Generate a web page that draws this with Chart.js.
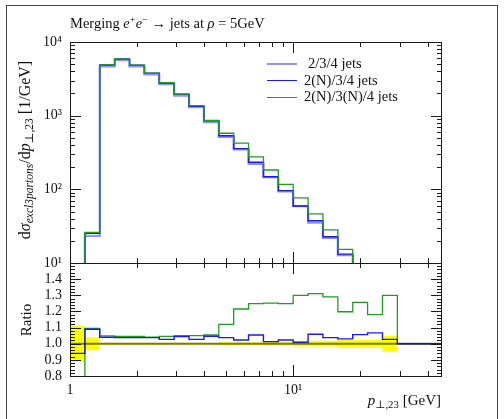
<!DOCTYPE html>
<html>
<head>
<meta charset="utf-8">
<title>Merging e+e- jets</title>
<script src="https://cdn.jsdelivr.net/npm/chart.js@4.4.1/dist/chart.umd.min.js"></script>
<style>
  html, body { margin: 0; padding: 0; background: #fff; }
  #wrap { position: relative; width: 504px; height: 419px; overflow: hidden;
          font-family: 'Liberation Serif', 'DejaVu Serif', serif; color: #111; }
  #frame { position: absolute; left: 6px; top: 5px; width: 490px; height: 430px; border: 1px solid #444; }
  #chart { position: absolute; left: 0; top: 0; }
  .txt { position: absolute; white-space: nowrap; line-height: 16px; }
  .txt sup, .txt sub { font-size: 72%; line-height: 0; }
  .txt sup { vertical-align: 0.45em; }
  .txt sub { vertical-align: -0.3em; }
  .rot { transform: translate(-50%, -50%) rotate(-90deg); }
  .key { position: absolute; left: 267px; width: 30px; height: 0; }
</style>
</head>
<body>
<div id="wrap">
  <div id="frame"></div>
  <canvas id="chart" width="504" height="419"></canvas>
  <div class="txt" style="left:70px; top:15px; font-size:14.5px">Merging <i>e</i><sup>+</sup><i>e</i><sup>−</sup> → jets at <i>ρ</i> = 5GeV</div>
  <div class="txt rot" style="left:25px; top:150px; font-size:16px">d<i>σ</i><sub><i>excl3partons</i></sub>/d<i>p</i><sub>⊥,23</sub> [1/GeV]</div>
  <div class="txt rot" style="left:26px; top:320px; font-size:15px">Ratio</div>
  <div class="txt" style="right:63px; top:392px; font-size:15px"><i>p</i><sub>⊥,23</sub> [GeV]</div>
  <div id="legend"></div>
</div>
<script>
// bin edges of the p_T,23 histogram (GeV)
const binEdges = [1, 1.166, 1.359, 1.585, 1.848, 2.154, 2.512, 2.929, 3.415, 3.981, 4.642, 5.412, 6.310,
                  7.356, 8.577, 10, 11.66, 13.59, 15.85, 18.48, 21.54, 25.12, 29.29, 34.15, 39.81, 46.42];
const seriesNames = ['2/3/4 jets', '2(N)/3/4 jets', '2(N)/3(N)/4 jets'];

// top panel: dsigma/dp (1/GeV), one value per bin
const xsecRef = [4.0, 23.3, 4680, 5660, 4650, 3620, 2680, 1870, 1305, 817, 515, 349, 221,
                 146, 94, 59, 35.4, 21.9, 12.8, 7.5, 4.3, 2.4, null, null, null];
const xsecN   = [3.8, 25.3, 4870, 5875, 4830, 3760, 2750, 1950, 1340, 855, 535, 357, 233,
                 148, 96, 59.5, 37.5, 22.7, 13.2, 7.9, 4.6, 2.5, null, null, null];
const xsecNN  = [0.5, 26, 4905, 5915, 4860, 3765, 2800, 1963, 1370, 861, 577, 424, 276,
                 183, 117, 76.7, 46.4, 28.2, 15.3, 9.4, 5.1, 3.1, null, null, null];

// ratio panel, relative to 2/3/4 jets
const ratioN  = [0.94, 1.09, 1.04, 1.038, 1.038, 1.038, 1.027, 1.044, 1.027, 1.046, 1.038, 1.023, 1.054,
                 1.013, 1.023, 1.009, 1.059, 1.038, 1.03, 1.056, 1.067, 1.027, 1, 1, 1];
const ratioNN = [0.1, 1.095, 1.048, 1.045, 1.045, 1.04, 1.045, 1.05, 1.05, 1.054, 1.12, 1.215, 1.248,
                 1.252, 1.248, 1.30, 1.31, 1.29, 1.198, 1.256, 1.18, 1.30, 1, 1, 1];
const bandUp   = [1.11, 1.04, 1.006, 1.006, 1.006, 1.006, 1.006, 1.006, 1.006, 1.006, 1.009, 1.009, 1.009,
                  1.012, 1.012, 1.018, 1.018, 1.018, 1.024, 1.024, 1.024, 1.05, 1, 1, 1];
const bandDown = [0.89, 0.96, 0.994, 0.994, 0.994, 0.994, 0.994, 0.994, 0.994, 0.994, 0.991, 0.991, 0.991,
                  0.988, 0.988, 0.982, 0.982, 0.982, 0.976, 0.976, 0.976, 0.95, 1, 1, 1];

// axis labels
const xTickVals = [1, 10];
const xTickLabels = ['1', '10¹'];
const yTickVals = [10, 100, 1000, 10000];
const yTickLabels = ['10¹', '10²', '10³', '10⁴'];
const rTickVals = [0.8, 0.9, 1.0, 1.1, 1.2, 1.3, 1.4];
const rTickLabels = ['0.8', '0.9', '1.0', '1.1', '1.2', '1.3', '1.4'];

const colors = ['rgba(70,70,255,0.6)', '#1a1aee', '#239b23'];
const widths = [2.2, 1.4, 1.3];

// histogram -> step points (value of bin i drawn from edge i to edge i+1)
function steps(vals) {
    const pts = vals.map((v, i) => ({ x: binEdges[i], y: v }));
    pts.push({ x: binEdges[vals.length], y: vals[vals.length - 1] });
    return pts;
}

// minor tick positions
const xMinor = [2, 3, 4, 5, 6, 7, 8, 9, 20, 30, 40];
const yMinor = [];
[10, 100, 1000].forEach(d => { for (let k = 2; k <= 9; k++) yMinor.push(k * d); });
const rMinor = [];
for (let i = 41; i < 75; i++) { if (i % 5) rMinor.push(i * 0.02); }
const rMajor = [0.8, 0.9, 1.0, 1.1, 1.2, 1.3, 1.4, 1.5];

// inward ticks + panel frames, Rivet style
const panelFrame = {
    id: 'panelFrame',
    afterDatasetsDraw(chart) {
        const { ctx, scales: { x, y, yr } } = chart;
        const L = x.left, R = x.right;
        ctx.save();
        ctx.strokeStyle = '#1a1a1a';
        ctx.lineWidth = 1;
        const seg = (x1, y1, x2, y2) => { ctx.beginPath(); ctx.moveTo(x1, y1); ctx.lineTo(x2, y2); ctx.stroke(); };
        const px = v => Math.round(x.getPixelForValue(v)) + 0.5;
        [[y, yTickVals, yMinor], [yr, rMajor, rMinor]].forEach(([s, major, minor]) => {
            const T = Math.round(s.top), B = Math.round(s.bottom);
            ctx.strokeRect(L + 0.5, T + 0.5, R - L - 1, B - T);
            major.forEach(v => { const p = Math.round(s.getPixelForValue(v)) + 0.5; seg(L, p, L + 11, p); seg(R, p, R - 11, p); });
            minor.forEach(v => { const p = Math.round(s.getPixelForValue(v)) + 0.5; seg(L, p, L + 5, p); seg(R, p, R - 5, p); });
            xTickVals.forEach(v => { const p = px(v); seg(p, B, p, B - 11); seg(p, T, p, T + 11); });
            xMinor.forEach(v => { const p = px(v); seg(p, B, p, B - 5); seg(p, T, p, T + 5); });
        });
        ctx.restore();
    }
};

Chart.defaults.font.family = "'Liberation Serif', serif";
Chart.defaults.color = '#111';

const tickFont = { size: 14 };

new Chart(document.getElementById('chart'), {
    type: 'line',
    data: {
        datasets: [
            { label: seriesNames[0], data: steps(xsecRef), yAxisID: 'y', borderColor: colors[0], borderWidth: widths[0], order: 5 },
            { label: seriesNames[1], data: steps(xsecN), yAxisID: 'y', borderColor: colors[1], borderWidth: widths[1], order: 4 },
            { label: seriesNames[2], data: steps(xsecNN), yAxisID: 'y', borderColor: colors[2], borderWidth: widths[2], order: 3 },
            { label: 'band up', data: steps(bandUp), yAxisID: 'yr', borderWidth: 0, borderColor: 'rgba(0,0,0,0)', order: 10 },
            { label: 'band down', data: steps(bandDown), yAxisID: 'yr', borderWidth: 0, borderColor: 'rgba(0,0,0,0)',
              fill: '-1', backgroundColor: '#ffff00', order: 9 },
            { label: seriesNames[2] + ' ratio', data: steps(ratioNN), yAxisID: 'yr', borderColor: colors[2], borderWidth: widths[2], order: 8 },
            { label: seriesNames[1] + ' ratio', data: steps(ratioN), yAxisID: 'yr', borderColor: colors[1], borderWidth: widths[1], order: 7 },
            { label: 'reference', data: [{ x: binEdges[0], y: 1 }, { x: binEdges[binEdges.length - 1], y: 1 }],
              yAxisID: 'yr', borderColor: 'rgba(30,30,30,0.6)', borderWidth: 2, order: 6 }
        ]
    },
    options: {
        responsive: false,
        devicePixelRatio: 1,
        animation: false,
        events: [],
        layout: { padding: { left: 0, right: 62, top: 42, bottom: 0 } },
        datasets: { line: { stepped: true, pointRadius: 0, fill: false, tension: 0 } },
        plugins: { legend: { display: false }, tooltip: { enabled: false } },
        scales: {
            x: {
                type: 'logarithmic', min: 1, max: 46.42, bounds: 'data',
                grid: { display: false, drawTicks: false }, border: { display: false },
                afterBuildTicks: s => { s.ticks = xTickVals.map(v => ({ value: v })); },
                afterFit: s => { s.height = 43; },
                ticks: { autoSkip: false, maxRotation: 0, padding: 6, font: tickFont,
                         callback: (v, i) => xTickLabels[i] }
            },
            // left boxes are stacked in reverse order: ratio first puts it at the bottom
            yr: {
                type: 'linear', position: 'left', stack: 'panels', stackWeight: 113,
                min: 0.8, max: 1.5, bounds: 'data',
                grid: { display: false, drawTicks: false }, border: { display: false },
                afterBuildTicks: s => { s.ticks = rTickVals.map(v => ({ value: v })); },
                afterFit: s => { s.width = 70; },
                ticks: { autoSkip: false, padding: 8, font: tickFont, callback: (v, i) => rTickLabels[i] }
            },
            y: {
                type: 'logarithmic', position: 'left', stack: 'panels', stackWeight: 221,
                min: 10, max: 10000, bounds: 'data',
                grid: { display: false, drawTicks: false }, border: { display: false },
                afterBuildTicks: s => { s.ticks = yTickVals.map(v => ({ value: v })); },
                afterFit: s => { s.width = 70; },
                ticks: { autoSkip: false, padding: 8, font: tickFont, callback: (v, i) => yTickLabels[i] }
            }
        }
    },
    plugins: [panelFrame]
});

// legend
const legend = document.getElementById('legend');
const legendY = [64, 80.7, 97.3];
const legendTextX = [308, 304, 304];
seriesNames.forEach((name, i) => {
    const key = document.createElement('div');
    key.className = 'key';
    key.style.top = (legendY[i] - widths[i] / 2) + 'px';
    key.style.borderTop = widths[i] + 'px solid ' + colors[i];
    legend.appendChild(key);
    const t = document.createElement('div');
    t.className = 'txt';
    t.style.left = legendTextX[i] + 'px';
    t.style.top = (legendY[i] - 9) + 'px';
    t.style.fontSize = '14.5px';
    t.textContent = name;
    legend.appendChild(t);
});
</script>
</body>
</html>
